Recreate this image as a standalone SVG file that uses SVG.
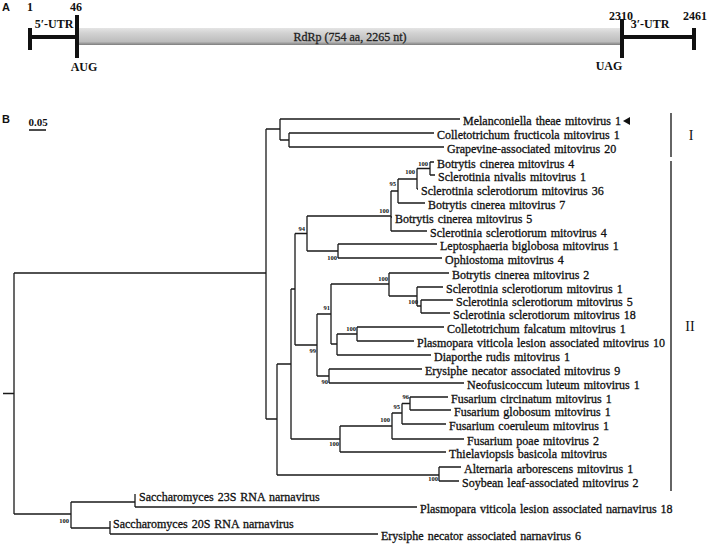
<svg xmlns="http://www.w3.org/2000/svg" width="708" height="546" viewBox="0 0 708 546">
<defs>
<linearGradient id="gbar" x1="0" y1="0" x2="0" y2="1">
<stop offset="0" stop-color="#e4e4e4"/>
<stop offset="0.3" stop-color="#d2d2d2"/>
<stop offset="0.8" stop-color="#bdbdbd"/>
<stop offset="1" stop-color="#7d7d7d"/>
</linearGradient>
<style>
.lf{font-family:"Liberation Serif","Times New Roman",serif;font-size:12px;fill:#111;stroke:#111;stroke-width:0.3px;word-spacing:1px}
.bs{font-family:"Liberation Serif","Times New Roman",serif;font-size:6.5px;font-weight:bold;fill:#111;text-anchor:end}
.gm{font-family:"Liberation Serif","Times New Roman",serif;font-size:12px;font-weight:bold;fill:#111}
.rd{font-family:"Liberation Serif","Times New Roman",serif;font-size:12px;fill:#222;stroke:#222;stroke-width:0.3px;text-anchor:middle}
.pl{font-family:"Liberation Sans",Arial,sans-serif;font-size:11px;font-weight:bold;fill:#111}
.br{fill:none;stroke:#1a1a1a;stroke-width:1.3}
.bk{fill:none;stroke:#111;stroke-width:4}
.cl{font-family:"Liberation Serif","Times New Roman",serif;font-size:14px;fill:#111;text-anchor:middle}
</style>
</defs>
<rect width="708" height="546" fill="#fff"/>

<!-- Panel A: genome map -->
<g id="panelA">
<text class="pl" x="2" y="11">A</text>
<text class="gm" x="30" y="11" text-anchor="middle">1</text>
<text class="gm" x="76" y="11" text-anchor="middle">46</text>
<text class="gm" x="621" y="20" text-anchor="middle">2310</text>
<text class="gm" x="695" y="20" text-anchor="middle">2461</text>
<text class="gm" x="54" y="28" text-anchor="middle">5′-UTR</text>
<text class="gm" x="650" y="28" text-anchor="middle">3′-UTR</text>
<rect x="77" y="28" width="545" height="17" fill="url(#gbar)"/>
<text class="rd" x="350" y="41">RdRp (754 aa, 2265 nt)</text>
<line class="bk" x1="30" y1="28" x2="30" y2="50"/>
<line class="bk" x1="30" y1="37" x2="77" y2="37"/>
<line class="bk" x1="77" y1="15" x2="77" y2="58"/>
<line class="bk" x1="622" y1="19" x2="622" y2="58"/>
<line class="bk" x1="622" y1="37" x2="694" y2="37"/>
<line class="bk" x1="694" y1="28" x2="694" y2="50"/>
<text class="gm" x="84" y="71" text-anchor="middle">AUG</text>
<text class="gm" x="609" y="70" text-anchor="middle">UAG</text>
</g>

<!-- Panel B label and scale -->
<g id="panelB">
<text class="pl" x="2" y="123">B</text>
<text class="gm" x="38" y="126" text-anchor="middle" style="font-size:11px">0.05</text>
<line x1="29" y1="130" x2="46" y2="130" stroke="#111" stroke-width="1.5"/>
</g>

<!-- Connectors: tree branches -->
<g id="connectors" class="br">
<path d="M3 393.5H14M14 273V514M14 273H266M14 514H71"/>
<path d="M266 129V419"/>
<path d="M266 129H280M280 119V140M280 119H460M280 140H289M289 133V147M289 133H434M289 147H444"/>
<path d="M266 419H277M277 364V475M277 475H439M439 467V481M439 467H461M439 481H459"/>
<path d="M277 364H291M291 289V439"/>
<path d="M291 289H295M295 233.5V345"/>
<path d="M295 233.5H307M307 216V251"/>
<path d="M307 216H391M391 191V231M391 217H392M391 231H427"/>
<path d="M391 191H398M398 179V203M398 203H425"/>
<path d="M398 179H417M417 168.5V189M417 189H418"/>
<path d="M417 168.5H430M430 162V175M430 162H434M430 175H435"/>
<path d="M307 251H338M338 244V258M338 244H437M338 258H442"/>
<path d="M295 345H317M317 314V376"/>
<path d="M317 314H331M331 284V344"/>
<path d="M331 284H389M389 273V296M389 273H449M389 296H417M417 287V306M417 287H443M417 306H421M421 300V313M421 300H453M421 313H450"/>
<path d="M331 344H337M337 334V355M337 355H431M337 334H357M357 327V341M357 327H444M357 341H414"/>
<path d="M317 376H329M329 369V383M329 369H422M329 383H464"/>
<path d="M291 439H340M340 426V452M340 452H446M340 426H392M392 413V439M392 439H464M392 413H402M402 403.5V424M402 424H446M402 403.5H410M410 397V410M410 397H448M410 410H451"/>
<path d="M71 502V528M71 502H135M135 494V507M135 507H417M71 528H110M110 521V534M110 534H378"/>
</g>

<!-- Bootstrap values -->
<g id="bootstrap">
<text class="bs" x="428" y="166">100</text>
<text class="bs" x="415" y="174">100</text>
<text class="bs" x="396" y="186">95</text>
<text class="bs" x="389" y="213">100</text>
<text class="bs" x="305" y="231">94</text>
<text class="bs" x="337" y="260">100</text>
<text class="bs" x="388" y="281">100</text>
<text class="bs" x="418" y="304">100</text>
<text class="bs" x="330" y="310">91</text>
<text class="bs" x="356" y="331">100</text>
<text class="bs" x="316" y="353">99</text>
<text class="bs" x="328" y="384">90</text>
<text class="bs" x="409" y="399">96</text>
<text class="bs" x="400" y="409">95</text>
<text class="bs" x="390" y="422">100</text>
<text class="bs" x="339" y="446">100</text>
<text class="bs" x="438" y="481">100</text>
<text class="bs" x="69" y="523">100</text>
</g>

<!-- Leaves -->
<g id="n-melanconiella"><text class="lf" x="463" y="125">Melanconiella theae mitovirus 1</text><polygon points="623,121 630,117 630,125" fill="#111"/></g>
<g id="n-colletotrichum-fructicola"><text class="lf" x="437" y="139">Colletotrichum fructicola mitovirus 1</text></g>
<g id="n-grapevine"><text class="lf" x="447" y="153">Grapevine-associated mitovirus 20</text></g>
<g id="n-botrytis-4"><text class="lf" x="437" y="168">Botrytis cinerea mitovirus 4</text></g>
<g id="n-sclerotinia-nivalis"><text class="lf" x="438" y="181">Sclerotinia nivalis mitovirus 1</text></g>
<g id="n-ss-36"><text class="lf" x="421" y="195">Sclerotinia sclerotiorum mitovirus 36</text></g>
<g id="n-botrytis-7"><text class="lf" x="428" y="209">Botrytis cinerea mitovirus 7</text></g>
<g id="n-botrytis-5"><text class="lf" x="395" y="223">Botrytis cinerea mitovirus 5</text></g>
<g id="n-ss-4"><text class="lf" x="430" y="237">Sclerotinia sclerotiorum mitovirus 4</text></g>
<g id="n-leptosphaeria"><text class="lf" x="440" y="250">Leptosphaeria biglobosa mitovirus 1</text></g>
<g id="n-ophiostoma"><text class="lf" x="445" y="264">Ophiostoma mitovirus 4</text></g>
<g id="n-botrytis-2"><text class="lf" x="452" y="279">Botrytis cinerea mitovirus 2</text></g>
<g id="n-ss-1"><text class="lf" x="446" y="293">Sclerotinia sclerotiorum mitovirus 1</text></g>
<g id="n-ss-5"><text class="lf" x="456" y="306">Sclerotinia sclerotiorum mitovirus 5</text></g>
<g id="n-ss-18"><text class="lf" x="453" y="319">Sclerotinia sclerotiorum mitovirus 18</text></g>
<g id="n-colletotrichum-falcatum"><text class="lf" x="447" y="333">Colletotrichum falcatum mitovirus 1</text></g>
<g id="n-plasmopara-10"><text class="lf" x="417" y="347">Plasmopara viticola lesion associated mitovirus 10</text></g>
<g id="n-diaporthe"><text class="lf" x="434" y="361">Diaporthe rudis mitovirus 1</text></g>
<g id="n-erysiphe-9"><text class="lf" x="425" y="375">Erysiphe necator associated mitovirus 9</text></g>
<g id="n-neofusicoccum"><text class="lf" x="467" y="389">Neofusicoccum luteum mitovirus 1</text></g>
<g id="n-fusarium-circinatum"><text class="lf" x="451" y="403">Fusarium circinatum mitovirus 1</text></g>
<g id="n-fusarium-globosum"><text class="lf" x="454" y="416">Fusarium globosum mitovirus 1</text></g>
<g id="n-fusarium-coeruleum"><text class="lf" x="449" y="430">Fusarium coeruleum mitovirus 1</text></g>
<g id="n-fusarium-poae"><text class="lf" x="467" y="445">Fusarium poae mitovirus 2</text></g>
<g id="n-thielaviopsis"><text class="lf" x="449" y="458">Thielaviopsis basicola mitovirus</text></g>
<g id="n-alternaria"><text class="lf" x="464" y="473">Alternaria arborescens mitovirus 1</text></g>
<g id="n-soybean"><text class="lf" x="462" y="487">Soybean leaf-associated mitovirus 2</text></g>
<g id="n-sacch-23s"><text class="lf" x="139" y="501">Saccharomyces 23S RNA narnavirus</text></g>
<g id="n-plasmopara-18"><text class="lf" x="420" y="513">Plasmopara viticola lesion associated narnavirus 18</text></g>
<g id="n-sacch-20s"><text class="lf" x="113" y="528">Saccharomyces 20S RNA narnavirus</text></g>
<g id="n-erysiphe-6"><text class="lf" x="381" y="540">Erysiphe necator associated narnavirus 6</text></g>

<!-- Clade brackets -->
<g id="clade-I"><line x1="671" y1="113" x2="671" y2="157" stroke="#111" stroke-width="1.3"/><text class="cl" x="691" y="140">I</text></g>
<g id="clade-II"><line x1="671" y1="161" x2="671" y2="491" stroke="#111" stroke-width="1.3"/><text class="cl" x="690" y="331">II</text></g>
</svg>
